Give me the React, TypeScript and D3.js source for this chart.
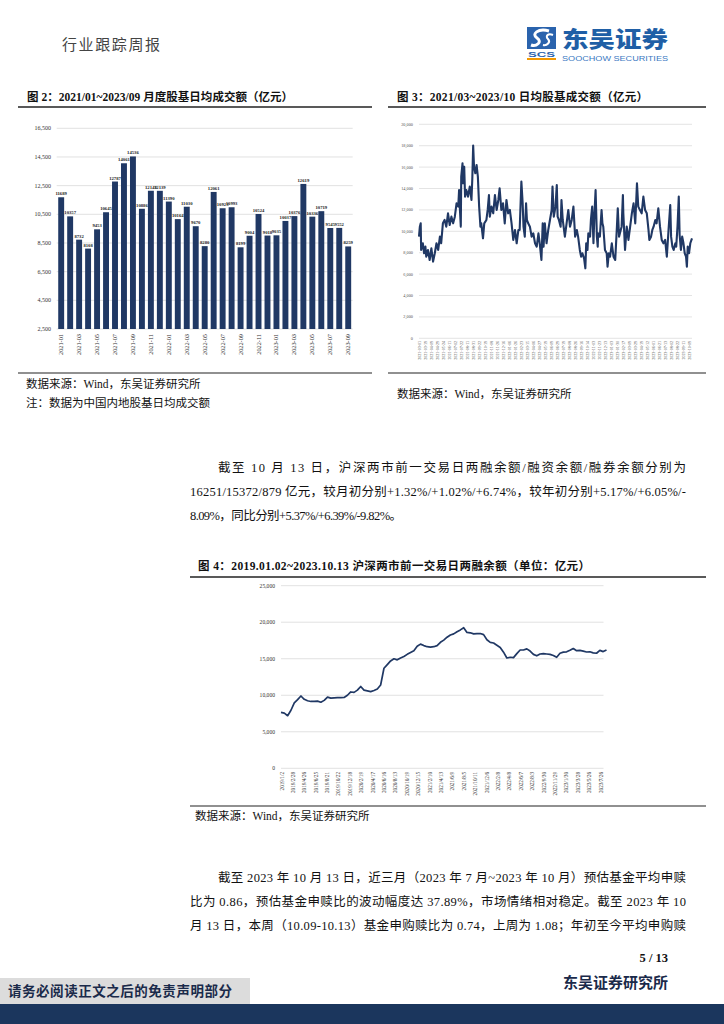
import React from 'react';
import * as d3 from 'd3';

// ---------- Figure 2: monthly average daily turnover ----------
const barMonths = [
  '2021-01','2021-02','2021-03','2021-04','2021-05','2021-06','2021-07','2021-08','2021-09','2021-10','2021-11','2021-12',
  '2022-01','2022-02','2022-03','2022-04','2022-05','2022-06','2022-07','2022-08','2022-09','2022-10','2022-11','2022-12',
  '2023-01','2023-02','2023-03','2023-04','2023-05','2023-06','2023-07','2023-08','2023-09'
];
const barValues = [
  11689,10357,8732,8108,9453,10645,12787,14061,14536,10886,12143,12139,
  11390,10164,11030,9670,8280,12061,10923,10993,8199,9004,10524,9018,
  9035,10037,10376,12619,10336,10719,9545,9552,8259
];
const barTicks = [2500,4500,6500,8500,10500,12500,14500,16500];

// ---------- Figure 3: daily turnover ----------
const dailyDay = [
  0,2,4,5,9,12,15,17,21,25,29,33,37,41,45,49,52,56,60,64,68,72,76,80,84,88,92,94,96,98,99,102,103,106,108,111,115,119,123,125,
  127,129,132,135,138,141,144,146,150,153,158,161,164,166,170,174,178,182,186,189,193,197,201,205,209,213,217,221,225,229,
  233,236,240,243,245,248,251,253,256,260,264,268,272,276,280,283,287,290,292,295,299,303,307,311,313,316,320,323,325,328,
  332,334,337,342,346,350,354,358,362,366,370,373,377,380,383,387,390,392,395,397,401,403,406,409,411,414,417,419,420,424,
  428,430,432,436,440,442,445,448,452,456,460,464,466,469,471,475,478,479,483,487,491,495,499,503,507,511,514,518,522,526,
  530,534,538,540,544,547,550,554,557,561,565,569,573,577,581,585,589,591,594,597,601,603,606,609,611,614,617,620,623,626,
  628,630,633,636,640
];
const dailyTurnover = [
  9500,10435,10745,8255,8880,7945,8565,7630,8255,7320,8410,7165,7945,8880,8255,9500,8880,10745,11060,10435,11680,10590,11370,10745,11370,12615,12305,13860,11995,10435,15110,16355,14485,16040,13240,13860,13240,14175,12930,14950,
  18005,16040,15420,16200,15110,12305,10435,10745,9345,10745,11060,11995,13395,11370,12305,11680,13395,11995,12930,14020,11995,12615,10745,12930,11680,11995,10745,9190,10125,8880,
  10125,10125,14640,12615,10435,9500,12615,11060,10745,10435,9500,9810,8880,8565,9810,8880,7320,10745,8565,10745,8880,10125,11060,11995,14175,11370,12305,14330,11370,11060,
  10435,12930,11060,9500,10745,11995,10435,11060,12305,9500,10125,9500,8255,7630,7945,7475,6540,8880,8255,9810,9500,11060,12305,8880,11370,13860,9500,8565,9810,9500,
  11995,10745,10435,8255,7945,6695,7945,7630,8880,7630,7320,10435,12150,9500,9810,10435,13395,11680,8255,10435,9190,10435,11680,12615,10745,14485,12305,11995,11680,13240,
  11995,11680,10125,9190,9500,10125,10435,11060,10745,12150,10435,9190,8880,9190,7630,10125,12460,9500,8565,8255,8880,8565,10435,13240,9655,8255,9500,8880,7945,7630,
  6695,8565,7945,8880,9345
];
const dailyTicks = [0,2000,4000,6000,8000,10000,12000,14000,16000,18000,20000];
const dailyDates = [
  '2021-03-01','2021-03-19','2021-04-09','2021-04-29','2021-05-24','2021-06-11','2021-07-02','2021-07-22','2021-08-11','2021-08-31',
  '2021-09-22','2021-10-19','2021-11-08','2021-11-26','2021-12-16','2022-01-06','2022-01-26','2022-02-23','2022-03-15','2022-04-06',
  '2022-04-27','2022-05-19','2022-06-09','2022-06-29','2022-07-19','2022-08-08','2022-08-26','2022-09-16','2022-10-14','2022-11-03',
  '2022-11-23','2022-12-13','2023-01-03','2023-01-30','2023-02-17','2023-03-09','2023-03-29','2023-04-19','2023-05-12','2023-06-01',
  '2023-06-21','2023-07-13','2023-08-02','2023-08-22','2023-09-11','2023-10-09'
];

// ---------- Figure 4: margin balance ----------
const marginBalance = [
  7650,7550,7200,7950,8950,9400,9900,9450,9250,9150,9150,9200,9050,9300,9750,9600,9650,9670,9670,9700,
  10000,10450,10400,10700,11200,10700,10600,10500,10650,10850,11400,13700,14200,14700,15000,14850,15100,15300,15600,15850,
  16100,16700,17000,16800,16650,16600,16650,16800,17250,17550,17950,18250,18400,18700,18950,19250,18600,18550,18400,18450,
  18450,18300,17600,17250,17150,16850,16550,15900,15100,15200,15150,15700,16200,16200,16350,16050,15600,15400,15650,15700,
  15650,15600,15450,15200,15750,15900,15950,16150,16400,16100,16150,16050,15920,15950,15800,15750,16150,15980,16200
];
const marginTicks = [0,5000,10000,15000,20000,25000];
const marginDates = [
  '2019/1/2','2019/2/28','2019/4/26','2019/6/25','2019/8/21','2019/10/22','2019/12/18','2020/2/19','2020/4/17','2020/6/16',
  '2020/8/13','2020/10/19','2020/12/15','2021/2/10','2021/4/13','2021/6/9','2021/8/5','2021/10/11','2021/12/6','2022/2/8',
  '2022/4/8','2022/6/7','2022/8/3','2022/9/30','2022/11/29','2023/1/30','2023/3/28','2023/5/26','2023/7/26'
];

const SERIF = '"Liberation Serif", "Noto Sans CJK SC", serif';
const CJK = '"Noto Sans CJK SC", sans-serif';
const NAVY = '#203864';
const GRID = '#d9d9d9';
const fmt = d3.format(',');

function Fig2() {
  const x = d3.scaleBand<string>().domain(barMonths).range([56.7, 352.7]).paddingInner(0.34).paddingOuter(0.17);
  const y = d3.scaleLinear().domain([2500, 16500]).range([329, 128.3]);
  return (
    <g>
      {barTicks.map(t => (
        <g key={t}>
          <line x1={56.7} x2={352.7} y1={y(t)} y2={y(t)} stroke={GRID} strokeWidth={0.8} />
          <text x={51} y={y(t) + 2} fontSize={6} textAnchor="end" fontFamily={SERIF} fill="#333">{fmt(t)}</text>
        </g>
      ))}
      {barMonths.map((m, i) => (
        <g key={m}>
          <rect x={x(m)} y={y(barValues[i])} width={x.bandwidth()} height={y(2500) - y(barValues[i])} fill={NAVY} />
          <text x={(x(m) as number) + x.bandwidth() / 2} y={y(barValues[i]) - 2} fontSize={4.7} textAnchor="middle" fontFamily={SERIF} fontWeight="bold" fill="#222">{barValues[i]}</text>
          {i % 2 === 0 && (
            <text transform={`translate(${(x(m) as number) + x.bandwidth() / 2 + 2},${334}) rotate(-90)`} fontSize={6.3} textAnchor="end" fontFamily={SERIF} fill="#333">{m}</text>
          )}
        </g>
      ))}
    </g>
  );
}

function Fig3() {
  const x = d3.scaleLinear().domain([0, 640]).range([419, 692]);
  const y = d3.scaleLinear().domain([0, 20000]).range([338.3, 124.3]);
  const pts: [number, number][] = dailyDay.map((d, i) => [d, dailyTurnover[i]]);
  const line = d3.line<[number, number]>().x(d => x(d[0])).y(d => y(d[1]));
  const xl = d3.scalePoint<string>().domain(dailyDates).range([420, 690]);
  return (
    <g>
      {dailyTicks.map(t => (
        <g key={t}>
          <line x1={419} x2={692} y1={y(t)} y2={y(t)} stroke={GRID} strokeWidth={0.7} />
          <text x={413} y={y(t) + 1.5} fontSize={4.3} textAnchor="end" fontFamily={SERIF} fill="#555">{fmt(t)}</text>
        </g>
      ))}
      <path d={line(pts) || ''} fill="none" stroke={NAVY} strokeWidth={2.1} strokeLinejoin="round" />
      {dailyDates.map(d => (
        <text key={d} transform={`translate(${(xl(d) as number) + 1.3},${341}) rotate(-90)`} fontSize={4} textAnchor="end" fontFamily={SERIF} fill="#555">{d}</text>
      ))}
    </g>
  );
}

function Fig4() {
  const x = d3.scaleLinear().domain([0, marginBalance.length - 1]).range([281, 606.5]);
  const y = d3.scaleLinear().domain([0, 25000]).range([768.3, 585.7]);
  const line = d3.line<number>().x((_, i) => x(i)).y(d => y(d));
  const xl = d3.scalePoint<string>().domain(marginDates).range([281.7, 600.7]);
  return (
    <g>
      {marginTicks.map(t => (
        <g key={t}>
          <line x1={281} x2={603.5} y1={y(t)} y2={y(t)} stroke={GRID} strokeWidth={0.8} />
          <text x={275} y={y(t) + 2} fontSize={5.6} textAnchor="end" fontFamily={SERIF} fill="#333">{fmt(t)}</text>
        </g>
      ))}
      <path d={line(marginBalance) || ''} fill="none" stroke={NAVY} strokeWidth={1.7} strokeLinejoin="round" />
      {marginDates.map(d => (
        <text key={d} transform={`translate(${(xl(d) as number) + 1.8},${772}) rotate(-90)`} fontSize={5.2} textAnchor="end" fontFamily={SERIF} fill="#333">{d}</text>
      ))}
    </g>
  );
}

export default function App() {
  const body = { fontFamily: SERIF, fontSize: 12.5, fill: '#111' } as const;
  return (
    <svg width={724} height={1024} style={{ position: 'absolute', left: 0, top: 0, background: '#fff' }}>
      <rect x={0} y={0} width={724} height={1024} fill="#fff" />
      {/* header */}
      <text x={62} y={50} fontFamily={CJK} fontSize={15} fill="#444" textLength={98} lengthAdjust="spacing">行业跟踪周报</text>
      <g>
        <rect x={527} y={27} width={29} height={22} fill="#2a63ad" />
        <path d="M549,31 C538,28 531,34 537,38 C543,42 536,47 531,45" fill="none" stroke="#fff" strokeWidth={3} />
        <path d="M553,35 C548,33 545,36 548,39 C551,42 547,46 543,45" fill="none" stroke="#fff" strokeWidth={2} />
        <text x={541.5} y={56.5} fontFamily='"Liberation Sans", sans-serif' fontWeight="bold" fontSize={8} fill="#2a63ad" textAnchor="middle" textLength={27} lengthAdjust="spacingAndGlyphs">SCS</text>
        <rect x={527} y={58} width={29} height={2} fill="#f39800" />
        <text x={562} y={46.5} fontFamily={CJK} fontWeight={900} fontSize={22} fill="#1f5fa6" textLength={106} lengthAdjust="spacingAndGlyphs">东吴证券</text>
        <text x={562} y={61} fontFamily='"Liberation Sans", sans-serif' fontSize={8} fill="#3a78c2" textLength={106} lengthAdjust="spacingAndGlyphs">SOOCHOW SECURITIES</text>
      </g>

      {/* Figure 2 */}
      <text x={27} y={101} fontFamily={SERIF} fontWeight="bold" fontSize={11.5} fill="#111" textLength={266} lengthAdjust="spacing">图 2：2021/01~2023/09 月度股基日均成交额（亿元）</text>
      <line x1={18} x2={372} y1={107} y2={107} stroke="#222" strokeWidth={1.5} />
      <Fig2 />
      <line x1={18} x2={372} y1={373} y2={373} stroke="#222" strokeWidth={1.2} />
      <text x={26} y={388} fontFamily={SERIF} fontSize={11.5} fill="#111">数据来源：Wind，东吴证券研究所</text>
      <text x={26} y={407} fontFamily={SERIF} fontSize={11.5} fill="#111">注：数据为中国内地股基日均成交额</text>

      {/* Figure 3 */}
      <text x={397} y={101} fontFamily={SERIF} fontWeight="bold" fontSize={11.5} fill="#111" textLength={251} lengthAdjust="spacing">图 3：2021/03~2023/10 日均股基成交额（亿元）</text>
      <line x1={388} x2={706} y1={107} y2={107} stroke="#222" strokeWidth={1.5} />
      <Fig3 />
      <line x1={388} x2={706} y1={373} y2={373} stroke="#222" strokeWidth={1.2} />
      <text x={397} y={398} fontFamily={SERIF} fontSize={11.5} fill="#111">数据来源：Wind，东吴证券研究所</text>

      {/* Paragraph 1 */}
      <text x={218} y={472} {...body} textLength={468} lengthAdjust="spacing">截至 10 月 13 日，沪深两市前一交易日两融余额/融资余额/融券余额分别为</text>
      <text x={190} y={496} {...body} textLength={496} lengthAdjust="spacing">16251/15372/879 亿元，较月初分别+1.32%/+1.02%/+6.74%，较年初分别+5.17%/+6.05%/-</text>
      <text x={190} y={520} {...body} textLength={212} lengthAdjust="spacing">8.09%，同比分别+5.37%/+6.39%/-9.82%。</text>

      {/* Figure 4 */}
      <text x={198} y={570} fontFamily={SERIF} fontWeight="bold" fontSize={11.5} fill="#111" textLength={392} lengthAdjust="spacing">图 4：2019.01.02~2023.10.13 沪深两市前一交易日两融余额（单位：亿元）</text>
      <line x1={190} x2={706} y1={577} y2={577} stroke="#222" strokeWidth={1.5} />
      <Fig4 />
      <line x1={190} x2={706} y1={806} y2={806} stroke="#222" strokeWidth={1.2} />
      <text x={195} y={820} fontFamily={SERIF} fontSize={11.5} fill="#111">数据来源：Wind，东吴证券研究所</text>

      {/* Paragraph 2 */}
      <text x={218} y={882} {...body} textLength={468} lengthAdjust="spacing">截至 2023 年 10 月 13 日，近三月（2023 年 7 月~2023 年 10 月）预估基金平均申赎</text>
      <text x={190} y={906} {...body} textLength={496} lengthAdjust="spacing">比为 0.86，预估基金申赎比的波动幅度达 37.89%，市场情绪相对稳定。截至 2023 年 10</text>
      <text x={190} y={930} {...body} textLength={496} lengthAdjust="spacing">月 13 日，本周（10.09-10.13）基金申购赎比为 0.74，上周为 1.08；年初至今平均申购赎</text>

      {/* footer */}
      <text x={668} y={962} fontFamily={SERIF} fontWeight="bold" fontSize={12.5} fill="#111" textAnchor="end">5 / 13</text>
      <text x={668} y={988} fontFamily={SERIF} fontWeight="bold" fontSize={15} fill="#1a2a4a" textAnchor="end" textLength={105} lengthAdjust="spacing">东吴证券研究所</text>
      <rect x={0} y={978} width={250} height={26} fill="#dcdcdc" />
      <text x={8} y={996} fontFamily={SERIF} fontWeight="bold" fontSize={13.5} fill="#1a2a4a" textLength={224} lengthAdjust="spacing">请务必阅读正文之后的免责声明部分</text>
      <rect x={0} y={1004} width={724} height={20} fill="#1b365d" />
    </svg>
  );
}
